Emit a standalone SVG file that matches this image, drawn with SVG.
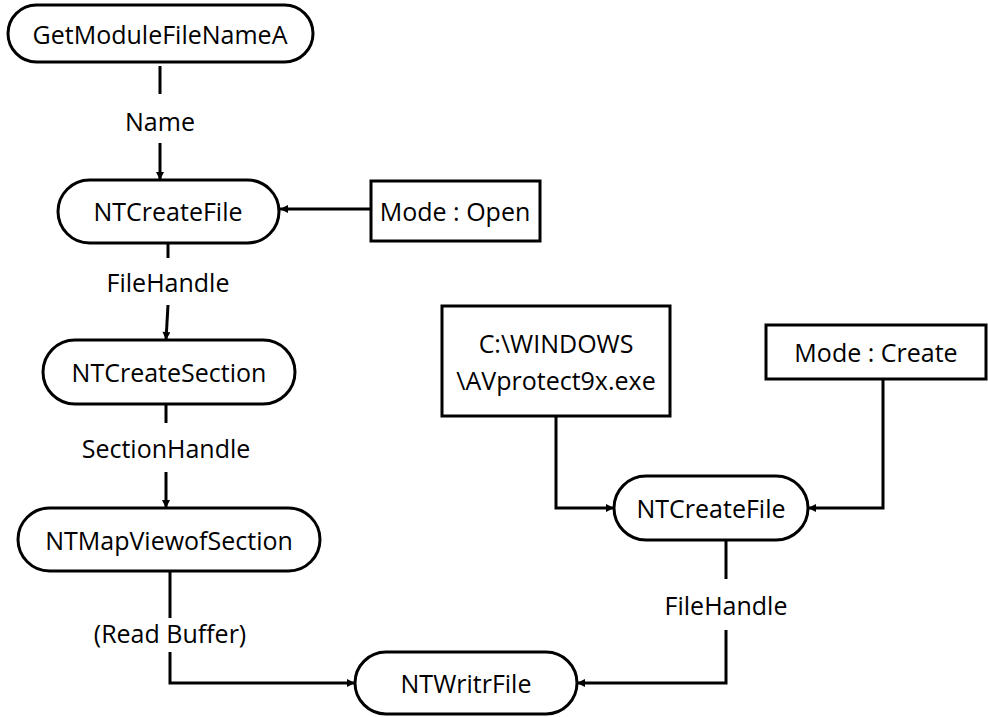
<svg xmlns="http://www.w3.org/2000/svg" width="988" height="717" viewBox="0 0 988 717">
  <style>
    .term { fill: #ffffff; stroke: #000000; stroke-width: 3; }
    .box { fill: #ffffff; stroke: #000000; stroke-width: 3; }
    .label { font-family: "Open Sans", "Noto Sans", sans-serif; font-size: 25px; fill: #000000; text-anchor: middle; dominant-baseline: central; }
    .wire { fill: none; stroke: #000000; stroke-width: 3; }
    .arrow { fill: none; stroke: #000000; stroke-width: 3; marker-end: url(#head); }
  </style>
  <defs>
    <marker id="head" viewBox="0 0 10 10" refX="10" refY="5" markerWidth="9" markerHeight="8" markerUnits="userSpaceOnUse" orient="auto">
      <path d="M0,0 L10,5 L0,10 Z" fill="#000000"/>
    </marker>
  </defs>

  <!-- connectors -->
  <g id="connectors">
    <line class="wire" x1="160" y1="66" x2="160" y2="94"/>
    <text class="label" x="160" y="121">Name</text>
    <line class="arrow" x1="160" y1="143" x2="160" y2="180"/>

    <line class="arrow" x1="371" y1="209" x2="280" y2="209"/>

    <line class="wire" x1="168" y1="243" x2="168" y2="258"/>
    <text class="label" x="168" y="282">FileHandle</text>
    <line class="arrow" x1="168" y1="305" x2="166" y2="340"/>

    <line class="wire" x1="166" y1="404" x2="166" y2="423"/>
    <text class="label" x="166" y="448">SectionHandle</text>
    <line class="arrow" x1="166" y1="472" x2="166" y2="508"/>

    <line class="wire" x1="170" y1="571" x2="170" y2="618"/>
    <text class="label" x="170" y="633">(Read Buffer)</text>
    <polyline class="arrow" points="170,652 170,683 355,683"/>

    <polyline class="arrow" points="556,416 556,508 614,508"/>
    <polyline class="arrow" points="883,379 883,508 808,508"/>

    <line class="wire" x1="726" y1="540" x2="726" y2="579"/>
    <text class="label" x="726" y="605">FileHandle</text>
    <polyline class="arrow" points="726,630 726,683 577,683"/>
  </g>

  <g id="getModuleFileNameA">
    <rect class="term" x="8" y="5" width="305" height="57" rx="28.5"/>
    <text class="label" x="160" y="34">GetModuleFileNameA</text>
  </g>

  <g id="ntCreateFileOpen">
    <rect class="term" x="58" y="180" width="221" height="63" rx="31.5"/>
    <text class="label" x="168" y="211">NTCreateFile</text>
  </g>

  <g id="modeOpen">
    <rect class="box" x="371" y="181" width="169" height="60"/>
    <text class="label" x="455" y="211">Mode : Open</text>
  </g>

  <g id="ntCreateSection">
    <rect class="term" x="43" y="340" width="252" height="64" rx="32"/>
    <text class="label" x="169" y="372">NTCreateSection</text>
  </g>

  <g id="ntMapViewofSection">
    <rect class="term" x="18" y="508" width="302" height="63" rx="31.5"/>
    <text class="label" x="169" y="540">NTMapViewofSection</text>
  </g>

  <g id="ntWritrFile">
    <rect class="term" x="355" y="652" width="222" height="62" rx="31"/>
    <text class="label" x="466" y="683">NTWritrFile</text>
  </g>

  <g id="targetPath">
    <rect class="box" x="442" y="306" width="228" height="110"/>
    <text class="label" x="556" y="343">C:\WINDOWS</text>
    <text class="label" x="556" y="380">\AVprotect9x.exe</text>
  </g>

  <g id="modeCreate">
    <rect class="box" x="766" y="325" width="220" height="54"/>
    <text class="label" x="876" y="352">Mode : Create</text>
  </g>

  <g id="ntCreateFileCreate">
    <rect class="term" x="614" y="476" width="194" height="64" rx="32"/>
    <text class="label" x="711" y="508">NTCreateFile</text>
  </g>
</svg>
